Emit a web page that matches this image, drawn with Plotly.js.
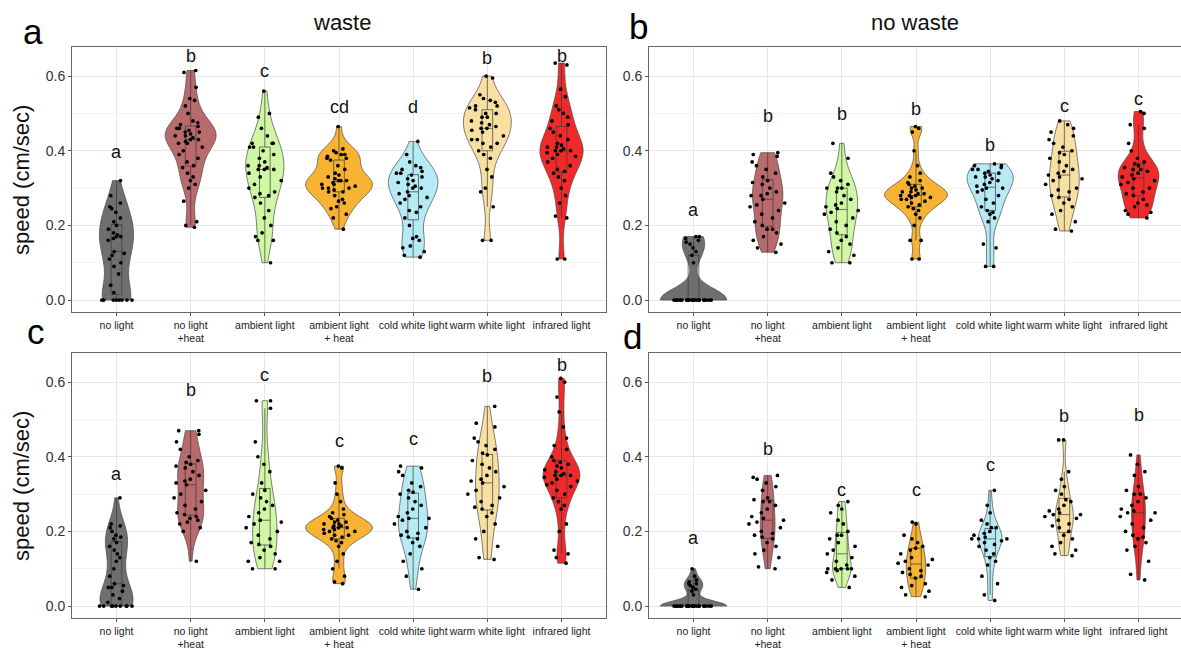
<!DOCTYPE html>
<html>
<head>
<meta charset="utf-8">
<script src="https://cdn.plot.ly/plotly-3.0.1.min.js"></script>
<style>html,body{margin:0;padding:0;background:#fff;}#chart{width:1181px;height:650px;}</style>
</head>
<body>
<div id="chart"></div>
<script>
// ---------------- DATA ----------------
const categories = ["no light", "no light<br>+heat", "ambient light", "ambient light<br>+ heat",
  "cold white light", "warm white light", "infrared light"];

// panel a: waste (top row)
const panelA = [
  [0,0,0,0,0,0,0,0,0.02,0.04,0.07,0.09,0.1,0.11,0.12,0.125,0.13,0.16,0.165,0.17,0.17,0.175,0.18,0.19,0.2,0.21,0.22,0.235,0.245,0.25,0.26,0.28,0.32],
  [0.615,0.61,0.57,0.54,0.535,0.52,0.5,0.48,0.475,0.47,0.465,0.46,0.46,0.455,0.45,0.45,0.445,0.44,0.44,0.435,0.43,0.43,0.425,0.42,0.42,0.41,0.4,0.39,0.38,0.37,0.36,0.355,0.34,0.33,0.32,0.31,0.3,0.265,0.21,0.2,0.195],
  [0.56,0.5,0.49,0.46,0.44,0.42,0.42,0.42,0.41,0.41,0.4,0.39,0.38,0.37,0.36,0.36,0.355,0.35,0.35,0.35,0.34,0.33,0.32,0.31,0.3,0.29,0.285,0.28,0.275,0.26,0.24,0.22,0.2,0.18,0.17,0.16,0.16,0.1],
  [0.465,0.405,0.4,0.395,0.39,0.39,0.385,0.38,0.38,0.375,0.36,0.35,0.34,0.335,0.33,0.325,0.32,0.32,0.32,0.315,0.31,0.31,0.305,0.3,0.3,0.3,0.295,0.29,0.29,0.28,0.27,0.265,0.26,0.25,0.245,0.23,0.22,0.19],
  [0.425,0.39,0.37,0.36,0.355,0.35,0.345,0.34,0.34,0.335,0.33,0.325,0.32,0.315,0.31,0.305,0.3,0.3,0.29,0.285,0.28,0.275,0.27,0.26,0.25,0.24,0.235,0.22,0.2,0.17,0.165,0.16,0.145,0.14,0.13,0.12,0.115],
  [0.6,0.595,0.55,0.54,0.535,0.53,0.52,0.52,0.515,0.51,0.5,0.5,0.49,0.49,0.48,0.475,0.47,0.465,0.46,0.46,0.455,0.45,0.44,0.43,0.43,0.42,0.42,0.41,0.4,0.39,0.38,0.35,0.33,0.3,0.29,0.25,0.16,0.16],
  [0.635,0.63,0.565,0.545,0.52,0.51,0.5,0.49,0.48,0.47,0.46,0.45,0.44,0.43,0.42,0.415,0.41,0.41,0.405,0.4,0.4,0.4,0.395,0.39,0.385,0.38,0.37,0.36,0.35,0.345,0.34,0.33,0.32,0.3,0.28,0.26,0.225,0.22,0.11,0.11]
];
// panel b: no waste (top row)
const panelB = [
  [0,0,0,0,0,0,0,0,0,0,0,0,0,0,0,0,0,0,0,0,0,0,0,0,0.17,0.17,0.165,0.16,0.155,0.15,0.14,0.13,0.12,0.1],
  [0.395,0.39,0.385,0.37,0.36,0.35,0.34,0.33,0.32,0.315,0.31,0.3,0.29,0.285,0.28,0.28,0.27,0.26,0.255,0.25,0.24,0.23,0.22,0.21,0.2,0.19,0.19,0.18,0.17,0.16,0.15,0.14,0.128],
  [0.42,0.38,0.34,0.33,0.32,0.31,0.3,0.3,0.3,0.29,0.28,0.27,0.26,0.255,0.25,0.245,0.24,0.235,0.23,0.22,0.21,0.2,0.19,0.18,0.17,0.16,0.15,0.14,0.13,0.12,0.1,0.1],
  [0.465,0.46,0.45,0.4,0.36,0.34,0.33,0.32,0.315,0.31,0.305,0.3,0.3,0.295,0.29,0.29,0.285,0.285,0.28,0.28,0.28,0.275,0.275,0.27,0.27,0.265,0.26,0.255,0.25,0.245,0.24,0.23,0.22,0.2,0.16,0.16,0.11,0.11],
  [0.365,0.36,0.36,0.355,0.35,0.35,0.345,0.34,0.34,0.335,0.33,0.33,0.325,0.32,0.315,0.31,0.305,0.3,0.3,0.295,0.29,0.28,0.27,0.26,0.25,0.24,0.235,0.23,0.22,0.21,0.15,0.14,0.09,0.09],
  [0.48,0.47,0.46,0.45,0.44,0.43,0.42,0.41,0.4,0.395,0.39,0.38,0.37,0.36,0.35,0.345,0.34,0.335,0.33,0.325,0.32,0.31,0.3,0.295,0.29,0.28,0.275,0.27,0.26,0.25,0.24,0.23,0.21,0.19,0.185],
  [0.505,0.5,0.47,0.46,0.42,0.4,0.38,0.37,0.365,0.36,0.355,0.35,0.35,0.345,0.34,0.335,0.33,0.325,0.32,0.315,0.31,0.3,0.3,0.29,0.285,0.28,0.27,0.26,0.255,0.25,0.24,0.235,0.23,0.22]
];
// panel c (bottom row, left)
const panelC = [
  [0,0,0,0,0,0,0,0,0,0.01,0.02,0.03,0.04,0.05,0.05,0.055,0.06,0.08,0.1,0.12,0.13,0.14,0.15,0.16,0.17,0.18,0.185,0.19,0.2,0.21,0.215,0.22,0.29],
  [0.47,0.47,0.46,0.44,0.42,0.4,0.39,0.385,0.38,0.375,0.37,0.36,0.35,0.34,0.335,0.33,0.325,0.31,0.3,0.29,0.28,0.27,0.26,0.25,0.245,0.24,0.235,0.23,0.225,0.22,0.21,0.2,0.12],
  [0.55,0.55,0.53,0.44,0.4,0.38,0.36,0.33,0.31,0.3,0.29,0.28,0.27,0.26,0.25,0.24,0.23,0.225,0.22,0.21,0.2,0.19,0.18,0.17,0.165,0.16,0.15,0.14,0.13,0.12,0.12,0.1,0.1],
  [0.375,0.37,0.33,0.3,0.28,0.26,0.25,0.245,0.24,0.235,0.23,0.225,0.225,0.22,0.22,0.215,0.215,0.21,0.21,0.21,0.205,0.205,0.2,0.2,0.195,0.19,0.19,0.185,0.18,0.175,0.17,0.16,0.14,0.12,0.1,0.08,0.065,0.06],
  [0.375,0.37,0.36,0.35,0.33,0.32,0.31,0.305,0.3,0.29,0.28,0.27,0.26,0.25,0.24,0.235,0.235,0.23,0.22,0.21,0.2,0.195,0.19,0.185,0.18,0.17,0.16,0.14,0.12,0.1,0.08,0.045],
  [0.535,0.49,0.48,0.45,0.44,0.43,0.42,0.41,0.405,0.39,0.38,0.37,0.36,0.35,0.34,0.335,0.33,0.32,0.31,0.3,0.29,0.28,0.27,0.265,0.26,0.25,0.24,0.22,0.2,0.18,0.16,0.13,0.125],
  [0.61,0.6,0.56,0.52,0.48,0.45,0.43,0.42,0.4,0.39,0.385,0.38,0.375,0.37,0.365,0.36,0.355,0.35,0.35,0.35,0.345,0.34,0.335,0.33,0.325,0.32,0.31,0.3,0.29,0.28,0.27,0.26,0.22,0.2,0.15,0.14,0.13,0.115]
];
// panel d (bottom row, right)
const panelD = [
  [0,0,0,0,0,0,0,0,0,0,0,0,0,0,0,0,0,0,0,0,0,0,0,0,0.1,0.08,0.07,0.065,0.06,0.06,0.055,0.05,0.045,0.04,0.03],
  [0.35,0.345,0.34,0.33,0.32,0.31,0.29,0.285,0.28,0.28,0.27,0.26,0.25,0.24,0.235,0.23,0.225,0.22,0.21,0.2,0.195,0.19,0.185,0.18,0.17,0.16,0.15,0.14,0.13,0.105,0.1],
  [0.28,0.27,0.26,0.25,0.23,0.22,0.2,0.19,0.19,0.18,0.17,0.16,0.15,0.14,0.13,0.12,0.11,0.1,0.1,0.1,0.1,0.1,0.095,0.09,0.08,0.07,0.05],
  [0.225,0.22,0.19,0.18,0.17,0.16,0.155,0.15,0.14,0.13,0.125,0.12,0.115,0.11,0.1,0.095,0.09,0.085,0.08,0.075,0.06,0.055,0.05,0.04,0.03,0.025],
  [0.31,0.27,0.25,0.23,0.22,0.21,0.21,0.2,0.195,0.19,0.185,0.18,0.18,0.18,0.175,0.17,0.165,0.16,0.15,0.14,0.13,0.12,0.11,0.08,0.06,0.03,0.015],
  [0.445,0.445,0.36,0.34,0.32,0.31,0.3,0.285,0.28,0.27,0.26,0.255,0.25,0.245,0.245,0.24,0.235,0.23,0.22,0.215,0.21,0.2,0.19,0.18,0.17,0.16,0.15,0.14,0.135],
  [0.405,0.38,0.36,0.35,0.32,0.31,0.3,0.3,0.29,0.28,0.27,0.26,0.255,0.25,0.25,0.24,0.23,0.22,0.21,0.2,0.19,0.185,0.18,0.17,0.16,0.15,0.12,0.085,0.07]
];

// significance letters
const lettersA = ["a","b","c","cd","d","b","b"];
const lettersB = ["a","b","b","b","b","c","c"];
const lettersC = ["a","b","c","c","c","b","b"];
const lettersD = ["a","b","c","c","c","b","b"];

const panelTitles = ["waste", "no waste"];
const panelTags = ["a", "b", "c", "d"];
const yTitle = "speed (cm/sec)";

// ---------------- STYLE / LAYOUT ----------------
const fills = ["#6f6f6f", "#b96a6d", "#d0f7a4", "#f8b333", "#b6eaf4", "#f8e0a2", "#f02a2a"];
// label heights (annotation placement)
const letterPosA = [0.398, 0.655, 0.615, 0.518, 0.518, 0.648, 0.655];
const letterPosB = [0.242, 0.493, 0.498, 0.511, 0.416, 0.52, 0.54];
const letterPosC = [0.354, 0.578, 0.618, 0.442, 0.447, 0.616, 0.645];
const letterPosD = [0.183, 0.42, 0.312, 0.312, 0.377, 0.51, 0.512];

const W = 1181, H = 650;
const FONT = "Liberation Sans, Arial, sans-serif";

function sortedCopy(v) { return v.slice().sort((a, b) => a - b); }
function quant(s, p) {
  const h = (s.length - 1) * p, lo = Math.floor(h);
  const hi = Math.min(lo + 1, s.length - 1);
  return s[lo] + (h - lo) * (s[hi] - s[lo]);
}
// R's bw.nrd0 (ggplot default bandwidth)
function nrd0(v) {
  const s = sortedCopy(v), n = s.length;
  const mean = s.reduce((a, b) => a + b, 0) / n;
  const sd = Math.sqrt(s.reduce((a, b) => a + (b - mean) * (b - mean), 0) / (n - 1));
  const iqr = quant(s, 0.75) - quant(s, 0.25);
  let lo = Math.min(sd, iqr / 1.34);
  if (!lo) lo = sd || Math.abs(s[0]) || 1;
  return 0.9 * lo * Math.pow(n, -0.2);
}

const panels = [
  {data: panelA, letters: lettersA, pos: letterPosA, xa: "x", ya: "y"},
  {data: panelB, letters: lettersB, pos: letterPosB, xa: "x2", ya: "y2"},
  {data: panelC, letters: lettersC, pos: letterPosC, xa: "x3", ya: "y3"},
  {data: panelD, letters: lettersD, pos: letterPosD, xa: "x4", ya: "y4"}
];

const traces = [];
const annotations = [];
panels.forEach((p, pi) => {
  p.data.forEach((vals, ci) => {
    traces.push({
      type: "violin",
      x: vals.map(() => categories[ci]),
      y: vals,
      xaxis: p.xa, yaxis: p.ya,
      name: categories[ci],
      showlegend: false,
      fillcolor: fills[ci],
      opacity: 1,
      line: {color: "#4a4a4a", width: 0.7},
      spanmode: "hard",
      scalemode: "width",
      scalegroup: "panel" + pi,
      bandwidth: nrd0(vals),
      points: "all",
      pointpos: 0,
      jitter: 0.6,
      marker: {color: "#000", size: 3.7, line: {width: 0}},
      box: {visible: true, width: 0.16, fillcolor: "rgba(0,0,0,0)", line: {color: "#3a3a3a", width: 0.7}},
      meanline: {visible: false},
      hoverinfo: "y"
    });
    annotations.push({
      xref: p.xa, yref: p.ya, x: categories[ci], y: p.pos[ci],
      text: p.letters[ci], showarrow: false, yanchor: "middle", xanchor: "center",
      font: {family: FONT, size: 18, color: "#111"}
    });
  });
});

function px(x) { return x / W; }
function py(y) { return 1 - y / H; }
annotations.push({xref: "paper", yref: "paper", x: px(342), y: py(23), text: panelTitles[0], showarrow: false,
  xanchor: "center", yanchor: "middle", font: {family: FONT, size: 22, color: "#111"}});
annotations.push({xref: "paper", yref: "paper", x: px(915), y: py(23), text: panelTitles[1], showarrow: false,
  xanchor: "center", yanchor: "middle", font: {family: FONT, size: 22, color: "#111"}});
const tagPos = [[33, 31], [638, 26], [36, 331], [632, 336]];
panelTags.forEach((t, i) => annotations.push({xref: "paper", yref: "paper", x: px(tagPos[i][0]), y: py(tagPos[i][1]),
  text: t, showarrow: false, xanchor: "center", yanchor: "middle", font: {family: FONT, size: 35, color: "#000"}}));
[180, 486].forEach(yc => annotations.push({xref: "paper", yref: "paper", x: px(21), y: py(yc), text: yTitle,
  textangle: -90, showarrow: false, xanchor: "center", yanchor: "middle", font: {family: FONT, size: 22, color: "#111"}}));

function xAxis(domain, anchor, rangeEnd) {
  return {
    domain: domain, anchor: anchor, type: "category",
    categoryorder: "array", categoryarray: categories,
    range: [-0.6, rangeEnd],
    showgrid: true, gridcolor: "#e6e6e6", gridwidth: 1,
    showline: true, mirror: true, linecolor: "#666", linewidth: 1,
    ticks: "outside", ticklen: 3, tickcolor: "#555", tickangle: 0,
    tickfont: {family: FONT, size: 10.5, color: "#222"},
    zeroline: false, fixedrange: true
  };
}
function yAxis(domain, anchor) {
  return {
    domain: domain, anchor: anchor,
    range: [-0.032, 0.678],
    tick0: 0, dtick: 0.2, tickformat: ".1f",
    showgrid: true, gridcolor: "#e6e6e6", gridwidth: 1,
    minor: {tick0: 0, dtick: 0.1, showgrid: true, gridcolor: "#f1f1f1", gridwidth: 0.8},
    showline: true, mirror: true, linecolor: "#666", linewidth: 1,
    ticks: "outside", ticklen: 3, tickcolor: "#555",
    tickfont: {family: FONT, size: 14, color: "#333"},
    zeroline: false, fixedrange: true
  };
}

const xL = [72 / W, 606 / W], xR = [649 / W, 1];
const yT = [1 - 312 / H, 1 - 47 / H], yB = [1 - 618 / H, 1 - 353 / H];

const layout = {
  width: W, height: H,
  margin: {l: 0, r: 0, t: 0, b: 0},
  paper_bgcolor: "#fff", plot_bgcolor: "#fff",
  font: {family: FONT},
  showlegend: false,
  violinmode: "overlay", violingap: 0.1, violingroupgap: 0,
  xaxis: xAxis(xL, "y", 6.6), yaxis: yAxis(yT, "x"),
  xaxis2: xAxis(xR, "y2", 6.573), yaxis2: yAxis(yT, "x2"),
  xaxis3: xAxis(xL, "y3", 6.6), yaxis3: yAxis(yB, "x3"),
  xaxis4: xAxis(xR, "y4", 6.573), yaxis4: yAxis(yB, "x4"),
  annotations: annotations
};

Plotly.newPlot("chart", traces, layout, {staticPlot: true, displayModeBar: false});
</script>
</body>
</html>
